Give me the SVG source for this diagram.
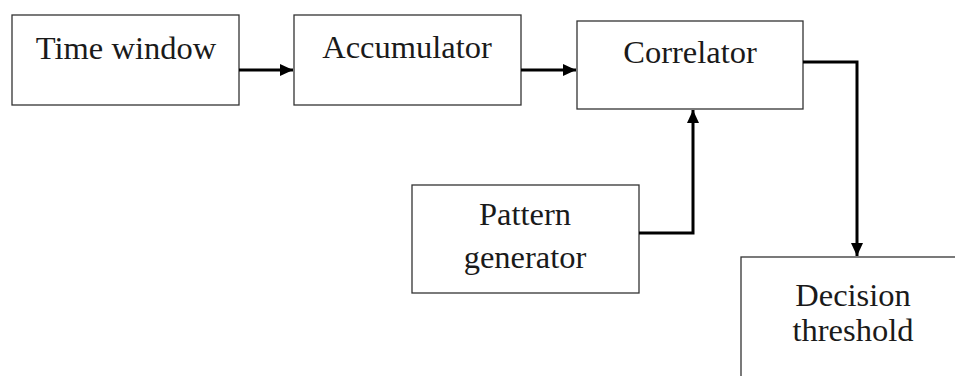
<svg xmlns="http://www.w3.org/2000/svg" width="955" height="376" viewBox="0 0 955 376">
<style>
.box{fill:#fff;stroke:#333;stroke-width:1.3}
.lbl{font-family:"Liberation Serif","Times New Roman",serif;font-size:32.5px;fill:#1a1a1a;text-anchor:middle}
.conn{fill:none;stroke:#000;stroke-width:3}
</style>
<defs>
<marker id="ah" markerUnits="userSpaceOnUse" markerWidth="14" markerHeight="14" viewBox="0 0 14 14" refX="13" refY="7" orient="auto">
<path d="M0,1 L13,7 L0,13 Z" fill="#000"/>
</marker>
</defs>
<rect width="955" height="376" fill="#fff"/>
<g id="time-window"><rect class="box" x="12" y="15" width="227" height="90"/><text class="lbl" x="126" y="59">Time window</text></g>
<g id="accumulator"><rect class="box" x="294" y="15" width="227" height="90"/><text class="lbl" x="407" y="58">Accumulator</text></g>
<g id="correlator"><rect class="box" x="577" y="21" width="226" height="88"/><text class="lbl" x="690" y="63">Correlator</text></g>
<g id="pattern-generator"><rect class="box" x="412" y="185" width="227" height="108"/><text class="lbl" x="525" y="225">Pattern</text><text class="lbl" x="525" y="268">generator</text></g>
<g id="decision-threshold"><rect class="box" x="741" y="257" width="240" height="140"/><text class="lbl" x="853" y="306">Decision</text><text class="lbl" x="853" y="341">threshold</text></g>
<g id="connectors">
<path class="conn" d="M239,70 H293" marker-end="url(#ah)"/>
<path class="conn" d="M521,70 H576" marker-end="url(#ah)"/>
<path class="conn" d="M803,62 H857 V256" marker-end="url(#ah)"/>
<path class="conn" d="M639,233 H693 V110" marker-end="url(#ah)"/>
</g>
</svg>
